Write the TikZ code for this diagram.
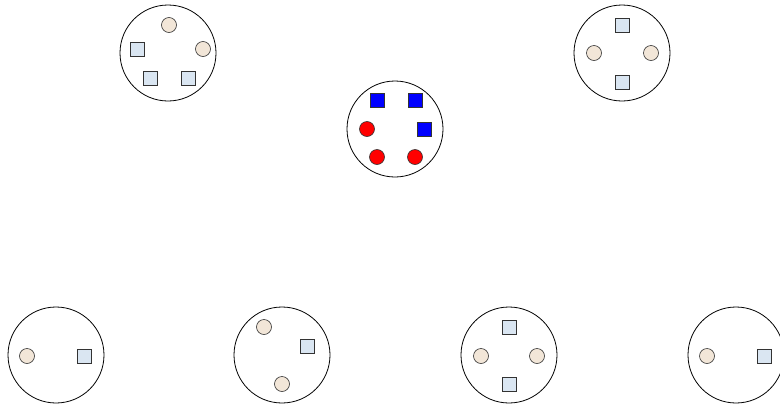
\documentclass[tikz,border=0pt]{standalone}
\usepackage{tikz}
\usetikzlibrary{positioning}

\definecolor{sandfill}{HTML}{F2E6D8}
\definecolor{icefill}{HTML}{DAE6F2}

\begin{document}
\begin{tikzpicture}[
    x=1pt, y=-1pt,
    plate/.style={circle, draw=black, fill=white, line width=0.8pt, minimum size=96pt, inner sep=0pt},
    bead/.style={circle, draw=black!80, fill=sandfill, line width=0.6pt, minimum size=15pt, inner sep=0pt},
    chip/.style={rectangle, draw=black!80, fill=icefill, line width=0.6pt, minimum size=14pt, inner sep=0pt},
    redbead/.style={bead, fill=red},
    bluechip/.style={chip, fill=blue}
]
\clip (0,0) rectangle (780,410);

% Plates
\node[plate] (topleft) at (168,53) {};
\node[plate] (middle) at (395,129) {};
\node[plate] (topright) at (622,53) {};
\node[plate] (bot1) at (56,355) {};
\node[plate] (bot2) at (282,355) {};
\node[plate] (bot3) at (509,355) {};
\node[plate] (bot4) at (736,355) {};

% Top left
\node[bead] (tl_b1) at (169,25) {};
\node[bead] (tl_b2) at (203,49) {};
\node[chip] (tl_c1) at (137,49) {};
\node[chip] (tl_c2) at (150,78) {};
\node[chip] (tl_c3) at (188,78) {};

% Middle
\node[bluechip] (mid_c1) at (377,100) {};
\node[bluechip] (mid_c2) at (415,100) {};
\node[bluechip] (mid_c3) at (424,129) {};
\node[redbead] (mid_b1) at (367,129) {};
\node[redbead] (mid_b2) at (377,157) {};
\node[redbead] (mid_b3) at (415,157) {};

% Top right
\node[chip] (tr_c1) at (622,25) {};
\node[chip] (tr_c2) at (622,82) {};
\node[bead] (tr_b1) at (594,53) {};
\node[bead] (tr_b2) at (651,53) {};

% Bottom row
\node[bead] (b1_b1) at (27,356) {};
\node[chip] (b1_c1) at (84,356) {};

\node[bead] (b2_b1) at (264,327) {};
\node[chip] (b2_c1) at (307,346) {};
\node[bead] (b2_b2) at (282,384) {};

\node[chip] (b3_c1) at (509,327) {};
\node[chip] (b3_c2) at (509,384) {};
\node[bead] (b3_b1) at (481,356) {};
\node[bead] (b3_b2) at (537,356) {};

\node[bead] (b4_b1) at (707,356) {};
\node[chip] (b4_c1) at (764,356) {};

\end{tikzpicture}
\end{document}
